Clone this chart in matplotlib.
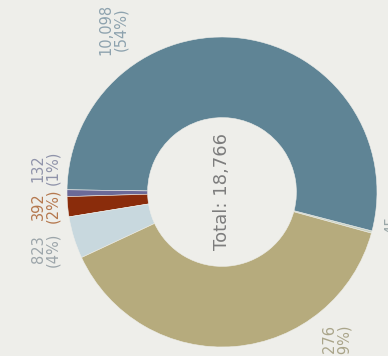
import matplotlib
matplotlib.use("Agg")
import matplotlib.pyplot as plt

# Category counts
values = [45, 10098, 132, 392, 823, 7276]
colors = ["#c9d2c4", "#5f8495", "#6b6a98", "#8a2c0b", "#c8d8de", "#b6ab7d"]
label_colors = ["#9aa7a8", "#8da2ae", "#8f93aa", "#b5784e", "#9ca5aa", "#aaa58a"]
total = sum(values)

# Label anchor points (data units, donut radius = 1)
label_pos = [(1.14, -0.21), (-0.70, 1.05), (-1.14, 0.155), (-1.14, -0.09),
             (-1.14, -0.37), (0.74, -0.99)]

bg = "#eeeeea"
fig = plt.figure(figsize=(3.88, 3.56), dpi=100, facecolor=bg)
ax = fig.add_axes([0, 0, 1, 1])
ax.set_facecolor(bg)

ax.pie(values, colors=colors, startangle=-15.4, counterclock=True,
       radius=1.0, wedgeprops=dict(width=0.52, edgecolor=bg, linewidth=0.4))

scale = 155.0
cx, cy = 222.0, 192.0
ax.set_xlim(-cx / scale, (388 - cx) / scale)
ax.set_ylim(-(356 - cy) / scale, cy / scale)
ax.set_aspect("equal")
ax.axis("off")

for v, c, (x, y) in zip(values, label_colors, label_pos):
    pct = round(100 * v / total)
    ax.text(x, y, f"{v:,}\n({pct}%)", rotation=90, ha="center", va="center",
            fontsize=10.5, color=c, linespacing=0.95, multialignment="center")

ax.text(0, 0, f"Total: {total:,}", rotation=90, ha="center", va="center",
        fontsize=13, color="#7d7d7d")

fig.savefig("out.png", dpi=100, facecolor=bg)
